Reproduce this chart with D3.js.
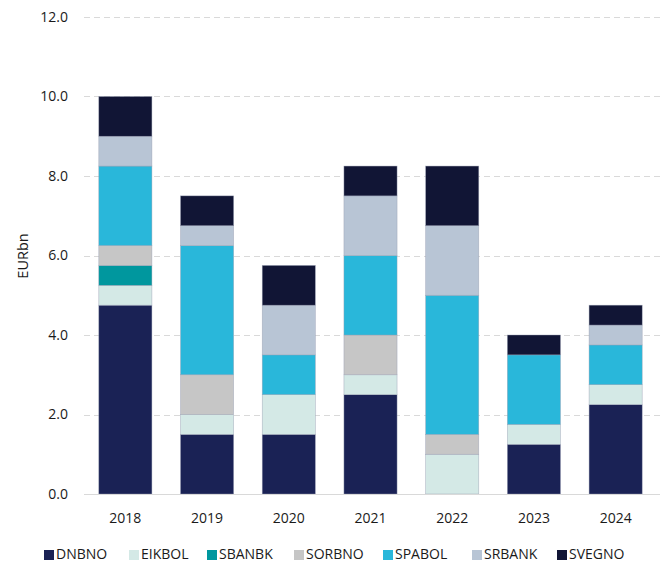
<!DOCTYPE html>
<html><head><meta charset="utf-8">
<script src="https://cdn.jsdelivr.net/npm/d3@7"></script>
<style>body{margin:0;background:#fff}svg{display:block}text{font-family:"Open Sans","Noto Sans",sans-serif;fill:#1a1a1a}</style>
</head><body><svg id="c" width="664" height="565"></svg>
<script>
const years = ["2018","2019","2020","2021","2022","2023","2024"];
const seriesNames = ["DNBNO","EIKBOL","SBANBK","SORBNO","SPABOL","SRBANK","SVEGNO"];
const DNBNO  = [4.75, 1.5, 1.5, 2.5, 0,    1.25, 2.25];
const EIKBOL = [0.5,  0.5, 1.0, 0.5, 1.0,  0.5,  0.5];
const SBANBK = [0.5,  0,   0,   0,   0,    0,    0];
const SORBNO = [0.5,  1.0, 0,   1.0, 0.5,  0,    0];
const SPABOL = [2.0,  3.25,1.0, 2.0, 3.5,  1.75, 1.0];
const SRBANK = [0.75, 0.5, 1.25,1.5, 1.75, 0,    0.5];
const SVEGNO = [1.0,  0.75,1.0, 0.75,1.5,  0.5,  0.5];
const colors = ["#1a2255","#d4e9e6","#00979e","#c6c6c6","#29b7da","#b8c5d5","#111535"];
const yTicks = [0,2,4,6,8,10,12];

const values = [DNBNO,EIKBOL,SBANBK,SORBNO,SPABOL,SRBANK,SVEGNO];
const rows = years.map((y,i)=>{const r={year:y};seriesNames.forEach((s,k)=>r[s]=values[k][i]);return r;});
const stack = d3.stack().keys(seriesNames)(rows);

const svg = d3.select("#c");
const x = d3.scaleBand().domain(years).range([84.5,656.5]).paddingInner(0.35).paddingOuter(0.175);
const y = d3.scaleLinear().domain([0,12]).range([494,17]);

// gridlines
svg.append("g").selectAll("line").data(yTicks.filter(t=>t>0)).join("line")
  .attr("x1",84).attr("x2",660).attr("y1",d=>Math.round(y(d))+0.5).attr("y2",d=>Math.round(y(d))+0.5)
  .attr("stroke","#d9d9d9").attr("stroke-width",1).attr("stroke-dasharray","6,4");

// bars
const g = svg.append("g");
stack.forEach((layer,k)=>{
  g.append("g").selectAll("rect").data(layer.filter(d=>d[1]-d[0]>0)).join("rect")
    .attr("x",d=>x(d.data.year)).attr("width",x.bandwidth())
    .attr("y",d=>y(d[1])).attr("height",d=>y(d[0])-y(d[1]))
    .attr("fill",colors[k]).attr("stroke","#9aa0b4").attr("stroke-width",0.6).attr("stroke-opacity",0.7);
});

// baseline
svg.append("line").attr("x1",84).attr("x2",660).attr("y1",494.5).attr("y2",494.5).attr("stroke","#d9d9d9").attr("stroke-width",1.2);

// y axis labels
const yAxis = d3.axisLeft(y).tickValues(yTicks).tickFormat(d3.format(".1f")).tickSize(0).tickPadding(0);
const ya = svg.append("g").attr("transform","translate(68,0)").call(yAxis);
ya.select(".domain").remove();
ya.selectAll("text").style("font-size","14px").attr("fill","#1a1a1a").style("font-family","'Open Sans',sans-serif");

// x axis labels
const xAxis = d3.axisBottom(x).tickSize(0).tickPadding(0);
const xa = svg.append("g").attr("transform","translate(0,513)").call(xAxis);
xa.select(".domain").remove();
xa.selectAll("text").style("font-size","14px").attr("fill","#1a1a1a").style("font-family","'Open Sans',sans-serif");

// y title
svg.append("text").attr("transform","translate(28,256) rotate(-90)").attr("text-anchor","middle")
  .style("font-size","14.5px").text("EURbn");

// legend
const legendX = [44,129,207,294,383,472,557];
const lg = svg.append("g").attr("transform","translate(0,559)");
seriesNames.forEach((s,k)=>{
  const it = lg.append("g").attr("transform",`translate(${legendX[k]},0)`);
  it.append("rect").attr("x",0).attr("y",-9).attr("width",10).attr("height",10).attr("fill",colors[k]);
  it.append("text").attr("x",12).attr("y",0).style("font-size","14px").text(s);
});
</script></body></html>
